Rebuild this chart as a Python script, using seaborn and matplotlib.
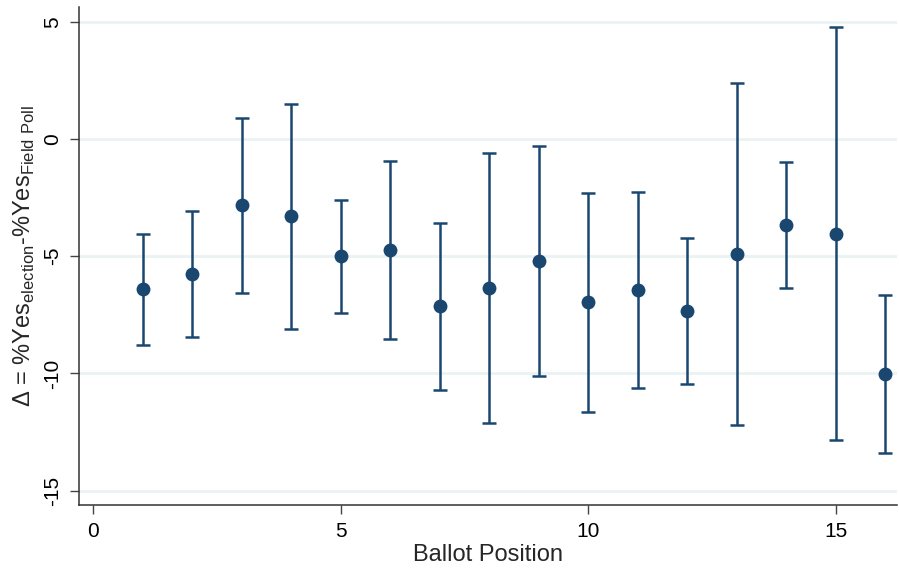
import pandas as pd
import matplotlib
matplotlib.use('Agg')
import matplotlib.pyplot as plt
import seaborn as sns

# ballot position, point estimate and CI bounds
position = [1, 2, 3, 4, 5, 6, 7, 8, 9, 10, 11, 12, 13, 14, 15, 16]
delta = [-6.39, -5.76, -2.83, -3.30, -5.00, -4.74, -7.12, -6.37,
         -5.20, -6.94, -6.44, -7.34, -4.89, -3.68, -4.04, -10.04]
ci_low = [-8.78, -8.46, -6.58, -8.09, -7.41, -8.55, -10.69, -12.13,
          -10.12, -11.65, -10.62, -10.47, -12.20, -6.36, -12.85, -13.38]
ci_high = [-4.04, -3.07, 0.91, 1.51, -2.60, -0.95, -3.58, -0.60,
           -0.30, -2.29, -2.27, -4.22, 2.40, -0.99, 4.77, -6.64]

df = pd.DataFrame({'position': position, 'delta': delta,
                   'lo': ci_low, 'hi': ci_high})

navy = '#1a476f'
grid_c = '#eaf2f3'

sns.set_style('white')
plt.rcParams['font.family'] = ['Liberation Sans', 'DejaVu Sans']
plt.rcParams['mathtext.fontset'] = 'custom'
plt.rcParams['mathtext.rm'] = 'Liberation Sans'

fig = plt.figure(figsize=(8.99, 5.68), dpi=100)
ax = fig.add_axes([0.0879, 0.1109, 0.9099, 0.8768])

# confidence intervals
ax.errorbar(df['position'], df['delta'],
            yerr=[df['delta'] - df['lo'], df['hi'] - df['delta']],
            fmt='none', ecolor=navy, elinewidth=1.8, capsize=5, capthick=1.8, zorder=2)
sns.scatterplot(data=df, x='position', y='delta', color=navy, s=100,
                edgecolor=navy, linewidth=0, ax=ax, zorder=3)

ax.set_xlim(-0.29, 16.24)
ax.set_ylim(-15.61, 5.63)
ax.set_xticks([0, 5, 10, 15])
ax.set_yticks([-15, -10, -5, 0, 5])
ax.set_yticklabels(['-15', '-10', '-5', '0', '5'], rotation=90, va='center')
ax.yaxis.grid(True, color=grid_c, linewidth=2)
ax.set_axisbelow(True)

for s in ['top', 'right']:
    ax.spines[s].set_visible(False)
for s in ['left', 'bottom']:
    ax.spines[s].set_color('#333333')
    ax.spines[s].set_linewidth(1.1)

ax.tick_params(axis='both', which='major', direction='out', length=6.5, width=1.0,
               color='#444444', labelsize=15, labelcolor='black', pad=6,
               bottom=True, left=True)

ax.set_xlabel('Ballot Position', fontsize=17, labelpad=2)
ax.set_ylabel(r'Δ = %Yes$_{\mathregular{election}}$-%Yes$_{\mathregular{Field\ Poll}}$',
              fontsize=17, labelpad=4)

plt.savefig('out.png', dpi=100)
